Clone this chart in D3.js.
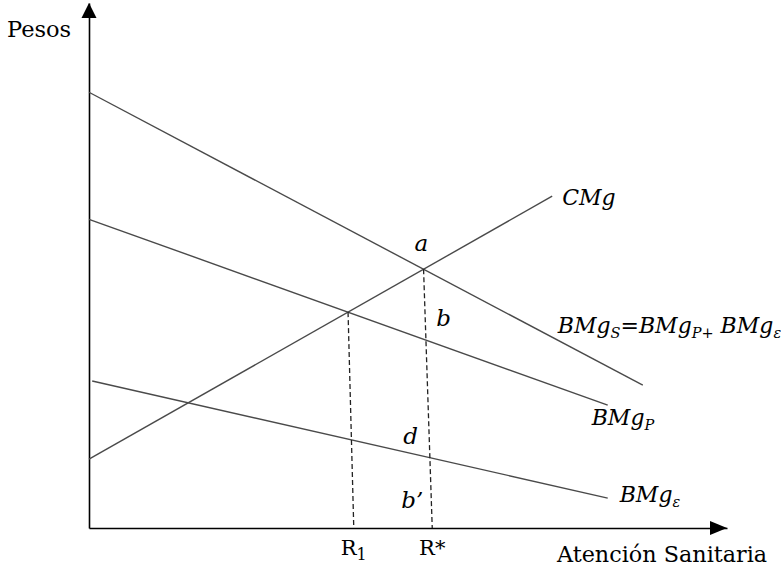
<!DOCTYPE html>
<html>
<head>
<meta charset="utf-8">
<script src="https://cdn.jsdelivr.net/npm/d3@7/dist/d3.min.js"></script>
<style>
  html, body { margin: 0; padding: 0; background: #fff; }
  svg { display: block; }
  text { font-family: "DejaVu Serif", "Liberation Serif", serif; fill: #000; }
  .it { font-style: italic; }
</style>
</head>
<body>
<svg id="chart" width="781" height="566"></svg>
<script>
// Curves: quantity / pesos endpoints (schematic units, 0..100 on both axes)
const curveNames = ["BMgS", "BMgP", "BMgε", "CMg"];
const curveStart = [[0, 83.0], [0, 58.8], [0.5, 28.0], [0, 13.1]];
const curveEnd   = [[86.8, 27.2], [81.3, 23.4], [81.3, 5.7], [72.6, 63.2]];

// Quantity marks on the horizontal axis
const markNames = ["R1", "R*"];
const markQ = [41.5, 53.8];

// Axis titles
const xTitle = "Atención Sanitaria";
const yTitle = "Pesos";

const svg = d3.select("#chart");

const x = d3.scaleLinear().domain([0, 100]).range([89, 727]);
const y = d3.scaleLinear().domain([0, 100]).range([528, 3]);

const curves = curveNames.map((n, i) => ({ name: n, p0: curveStart[i], p1: curveEnd[i] }));
const byName = Object.fromEntries(curves.map(c => [c.name, c]));

// value of a straight curve at quantity q
function valAt(c, q) {
  const [x0, y0] = c.p0, [x1, y1] = c.p1;
  return y0 + (y1 - y0) * (q - x0) / (x1 - x0);
}
// intersection of two straight curves
function cross(a, b) {
  const ma = (a.p1[1] - a.p0[1]) / (a.p1[0] - a.p0[0]);
  const mb = (b.p1[1] - b.p0[1]) / (b.p1[0] - b.p0[0]);
  const ca = a.p0[1] - ma * a.p0[0];
  const cb = b.p0[1] - mb * b.p0[0];
  const q = (cb - ca) / (ma - mb);
  return [q, ma * q + ca];
}

const ptA = cross(byName["CMg"], byName["BMgS"]);   // social optimum
const ptR1 = cross(byName["CMg"], byName["BMgP"]);  // private equilibrium

// --- Axes (no ticks, arrows at the ends) ---
const xAxis = d3.axisBottom(x).tickValues([]).tickSizeOuter(0);
const yAxis = d3.axisLeft(y).tickValues([]).tickSizeOuter(0);
svg.append("g").attr("transform", `translate(0,${y(0)})`).call(xAxis)
  .select(".domain").attr("stroke", "#000").attr("stroke-width", 1.6);
svg.append("g").attr("transform", `translate(${x(0)},0)`).call(yAxis)
  .select(".domain").attr("stroke", "#000").attr("stroke-width", 1.6);

// arrowheads
const xe = x(100), ye = y(0);
svg.append("path").attr("d", `M${xe},${ye} L${xe - 17},${ye - 7} L${xe - 17},${ye + 7} Z`).attr("fill", "#000");
const xo = x(0), yt = y(100);
svg.append("path").attr("d", `M${xo},${yt} L${xo - 7.5},${yt + 15} L${xo + 7.5},${yt + 15} Z`).attr("fill", "#000");

// --- Curves ---
const line = d3.line().x(d => x(d[0])).y(d => y(d[1]));
svg.append("g").selectAll("path").data(curves).join("path")
  .attr("d", d => line([d.p0, d.p1]))
  .attr("fill", "none").attr("stroke", "#4a4a4a").attr("stroke-width", 1.4);

// --- Dashed drop lines from the equilibria to the axis marks ---
const drops = [[ptR1, markQ[0]], [ptA, markQ[1]]];
svg.append("g").selectAll("path").data(drops).join("path")
  .attr("d", d => line([d[0], [d[1], 0]]))
  .attr("fill", "none").attr("stroke", "#222").attr("stroke-width", 1.3)
  .attr("stroke-dasharray", "5,3");

// --- Axis mark labels (R1, R*) ---
const markG = svg.append("g");
markNames.forEach((n, i) => {
  const t = markG.append("text").attr("x", x(markQ[i])).attr("y", 555)
    .attr("text-anchor", "middle").style("font-size", "21px");
  if (n === "R1") {
    t.append("tspan").text("R");
    t.append("tspan").attr("dy", 5).style("font-size", "16px").text("1");
  } else {
    t.text(n);
  }
});

// --- Axis titles ---
svg.append("text").attr("x", 557).attr("y", 562).style("font-size", "22.3px").text(xTitle);
svg.append("text").attr("x", 7).attr("y", 37).style("font-size", "22.5px").text(yTitle);

// --- Curve labels ---
const endS = byName["BMgS"].p1, endP = byName["BMgP"].p1, endE = byName["BMgε"].p1, endC = byName["CMg"].p1;
const LBL = "22px", SUB = "14.5px";

svg.append("text").attr("class", "it").attr("x", x(endC[0]) + 10).attr("y", y(endC[1]) + 9)
  .style("font-size", LBL).text("CMg");

{
  const t = svg.append("text").attr("class", "it").attr("x", x(endS[0]) - 85).attr("y", y(endS[1]) - 52)
    .style("font-size", LBL);
  t.append("tspan").text("BMg");
  t.append("tspan").attr("dy", 5).style("font-size", SUB).text("S");
  t.append("tspan").attr("dy", -5).text("=BMg");
  t.append("tspan").attr("dy", 5).style("font-size", SUB).text("P+");
  t.append("tspan").attr("dy", -5).text(" BMg");
  t.append("tspan").attr("dy", 5).style("font-size", SUB).text("ε");
}
{
  const t = svg.append("text").attr("class", "it").attr("x", x(endP[0]) - 16).attr("y", y(endP[1]) + 20)
    .style("font-size", LBL);
  t.append("tspan").text("BMg");
  t.append("tspan").attr("dy", 5).style("font-size", SUB).text("P");
}
{
  const t = svg.append("text").attr("class", "it").attr("x", x(endE[0]) + 12).attr("y", y(endE[1]) + 4)
    .style("font-size", LBL);
  t.append("tspan").text("BMg");
  t.append("tspan").attr("dy", 5).style("font-size", SUB).text("ε");
}

// --- Point labels ---
const qStar = markQ[1];
const pts = [
  { t: "a", px: x(ptA[0]) - 9, py: y(ptA[1]) - 18 },
  { t: "b", px: x(qStar) + 4, py: y(valAt(byName["BMgP"], qStar)) - 16 },
  { t: "d", px: x(qStar) - 29, py: y(valAt(byName["BMgε"], qStar)) - 14 },
  { t: "b’", px: x(qStar) - 31, py: y(0) - 20 }
];
svg.append("g").selectAll("text").data(pts).join("text")
  .attr("class", "it").attr("x", d => d.px).attr("y", d => d.py)
  .style("font-size", "23px").text(d => d.t);
</script>
</body>
</html>
